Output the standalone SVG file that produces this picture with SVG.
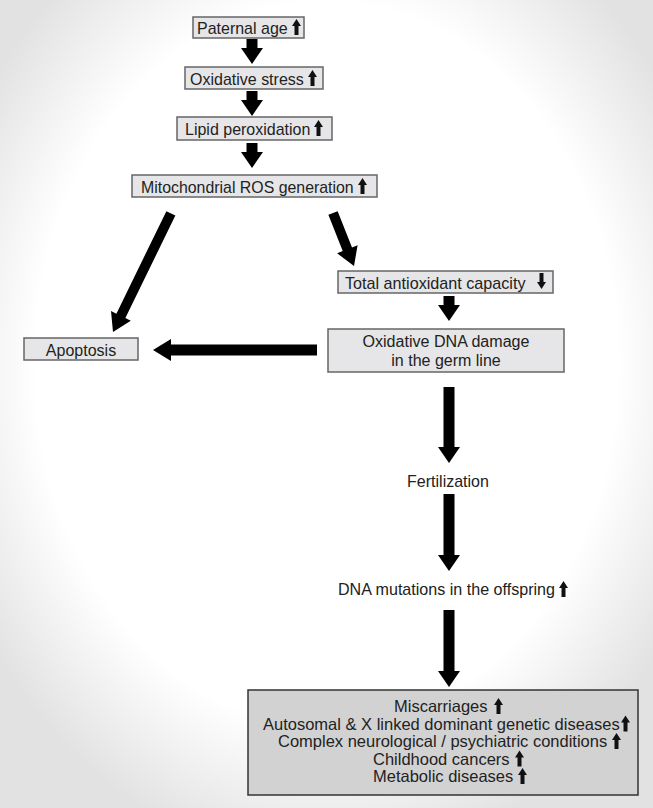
<svg xmlns="http://www.w3.org/2000/svg" xmlns:xlink="http://www.w3.org/1999/xlink" width="653" height="808" viewBox="0 0 653 808">
<defs>
<radialGradient id="bg" cx="50%" cy="45%" r="62%">
<stop offset="0.72" stop-color="#ffffff"/>
<stop offset="1" stop-color="#e2e2e2"/>
</radialGradient>
<path id="up" d="M4.5 0 L9 7 L6.5 7 L6.5 16 L2.5 16 L2.5 7 L0 7 Z" fill="#111"/>
<path id="down" d="M4.5 16 L9 9 L6.5 9 L6.5 0 L2.5 0 L2.5 9 L0 9 Z" fill="#111"/>
<style>
.box{fill:#e6e6e8;stroke:#666;stroke-width:1.5}
.big{fill:#d2d2d2;stroke:#333;stroke-width:1.5}
.t{font-family:"Liberation Sans",Arial,sans-serif;font-size:17px;fill:#222}
.td{font-family:"Liberation Sans",Arial,sans-serif;font-size:16px;fill:#222}
.tb{font-family:"Liberation Sans",Arial,sans-serif;font-size:16.5px;fill:#222}
.m{text-anchor:middle}
.arr{fill:#000}
</style>
</defs>
<rect x="0" y="0" width="653" height="808" fill="url(#bg)"/>

<g id="connectors">
<polygon class="arr" points="246.5,39 257.5,39 257.5,48 263,48 252,64 241,48 246.5,48"/>
<polygon class="arr" points="246.5,91 257.5,91 257.5,100 263,100 252,116 241,100 246.5,100"/>
<polygon class="arr" points="246.5,143 257.5,143 257.5,152 263,152 252,168 241,152 246.5,152"/>
<polygon class="arr" transform="translate(113,332) rotate(26)" points="-5,-132 5,-132 5,-18 11,-18 0,0 -11,-18 -5,-18"/>
<polygon class="arr" transform="translate(354,266) rotate(-21.6)" points="-5,-57 5,-57 5,-18 11,-18 0,0 -11,-18 -5,-18"/>
<polygon class="arr" points="443.5,296 454.5,296 454.5,305 460,305 449,321 438,305 443.5,305"/>
<polygon class="arr" transform="translate(153,350) rotate(90)" points="-5.5,-164 5.5,-164 5.5,-18 11,-18 0,0 -11,-18 -5.5,-18"/>
<polygon class="arr" points="443.5,387 454.5,387 454.5,447 460,447 449,463 438,447 443.5,447"/>
<polygon class="arr" points="443.5,494 454.5,494 454.5,555 460,555 449,571 438,555 443.5,555"/>
<polygon class="arr" points="443.5,610 454.5,610 454.5,671 460,671 449,687 438,671 443.5,671"/>
</g>

<g id="paternal-age">
<rect class="box" x="193" y="17" width="111" height="21"/>
<text class="t" x="197" y="33.5" textLength="90.7" lengthAdjust="spacingAndGlyphs">Paternal age</text>
<use xlink:href="#up" x="292" y="19"/>
</g>
<g id="oxidative-stress">
<rect class="box" x="185" y="67" width="138" height="22"/>
<text class="t" x="190" y="84.5" textLength="113.8" lengthAdjust="spacingAndGlyphs">Oxidative stress</text>
<use xlink:href="#up" x="308" y="70"/>
</g>
<g id="lipid-peroxidation">
<rect class="box" x="177" y="117" width="155" height="23"/>
<text class="t" x="185" y="134.5" textLength="125.4" lengthAdjust="spacingAndGlyphs">Lipid peroxidation</text>
<use xlink:href="#up" x="314" y="120"/>
</g>
<g id="mito-ros">
<rect class="box" x="132" y="175" width="245" height="22"/>
<text class="t" x="141" y="192.5" textLength="212.7" lengthAdjust="spacingAndGlyphs">Mitochondrial ROS generation</text>
<use xlink:href="#up" x="358" y="178"/>
</g>
<g id="total-antioxidant">
<rect class="box" x="338" y="271" width="215" height="22"/>
<text class="t" x="345" y="288.5" textLength="180.5" lengthAdjust="spacingAndGlyphs">Total antioxidant capacity</text>
<use xlink:href="#down" x="537" y="273"/>
</g>
<g id="apoptosis">
<rect class="box" x="24" y="338" width="114" height="22"/>
<text class="t m" x="81" y="355.5" textLength="70.3" lengthAdjust="spacingAndGlyphs">Apoptosis</text>
</g>
<g id="dna-damage">
<rect class="box" x="328" y="329" width="236" height="43"/>
<text class="td m" x="446" y="347" textLength="167" lengthAdjust="spacingAndGlyphs">Oxidative DNA damage</text>
<text class="td m" x="446" y="366" textLength="109.4" lengthAdjust="spacingAndGlyphs">in the germ line</text>
</g>
<g id="fertilization">
<text class="t m" x="448" y="487" textLength="81.8" lengthAdjust="spacingAndGlyphs">Fertilization</text>
</g>
<g id="dna-mutations">
<text class="t" x="338" y="595" textLength="217" lengthAdjust="spacingAndGlyphs">DNA mutations in the offspring</text>
<use xlink:href="#up" x="559" y="581"/>
</g>
<g id="outcomes">
<rect class="big" x="248" y="690" width="390" height="105"/>
<text class="tb" x="394" y="712" textLength="93.5" lengthAdjust="spacingAndGlyphs">Miscarriages</text>
<use xlink:href="#up" x="494" y="698"/>
<text class="tb" x="263" y="729.5" textLength="356.7" lengthAdjust="spacingAndGlyphs">Autosomal &amp; X linked dominant genetic diseases</text>
<use xlink:href="#up" x="621" y="715.5"/>
<text class="tb" x="278" y="747" textLength="329.2" lengthAdjust="spacingAndGlyphs">Complex neurological / psychiatric conditions</text>
<use xlink:href="#up" x="612" y="733"/>
<text class="tb" x="373" y="764.5" textLength="136.6" lengthAdjust="spacingAndGlyphs">Childhood cancers</text>
<use xlink:href="#up" x="515" y="750.5"/>
<text class="tb" x="373" y="782" textLength="140.3" lengthAdjust="spacingAndGlyphs">Metabolic diseases</text>
<use xlink:href="#up" x="518" y="768"/>
</g>
</svg>
